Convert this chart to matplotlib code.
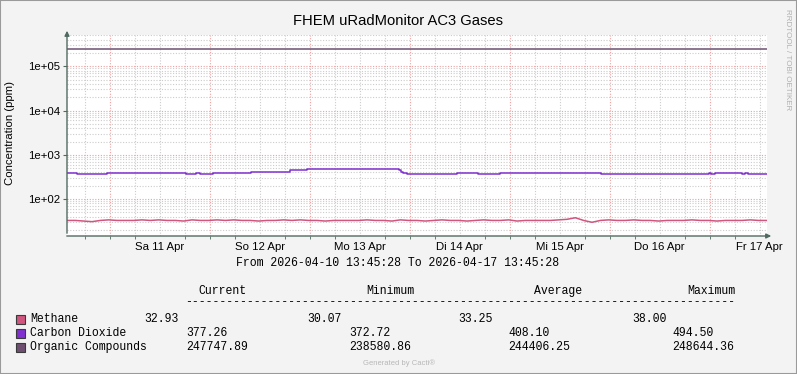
import matplotlib
matplotlib.use("Agg")
import matplotlib.pyplot as plt
import matplotlib.dates as mdates
from matplotlib.patches import Rectangle
from matplotlib.ticker import LogLocator, NullFormatter, FixedLocator, FixedFormatter
import numpy as np
import pandas as pd

# time window of the graph
start = pd.Timestamp("2026-04-10 13:45:28")
end = pd.Timestamp("2026-04-17 13:45:28")

# methane, one reading every 2 hours (ppm)
methane = [33, 33, 32, 31, 33, 34, 33, 33, 33, 34, 33, 34, 33, 33, 32, 34, 33, 33, 34, 33,
           34, 33, 33, 32, 33, 33, 34, 33, 34, 33, 33, 32, 33, 33, 33, 33, 34, 33, 33, 32,
           34, 33, 33, 32, 33, 34, 33, 33, 32, 33, 34, 33, 33, 34, 32, 33, 33, 33, 33, 34,
           35, 38, 33, 30, 33, 34, 33, 33, 34, 33, 33, 32, 33, 33, 33, 34, 33, 33, 32, 33,
           33, 33, 34, 33, 33]

# carbon dioxide steps: hours since start, value from there on
co2_hours = [0, 2.4, 9.6, 21.4, 21.8, 28.6, 31, 32, 35, 44.2, 49.7, 53.5, 57.6, 61.7, 62.4,
             79.7, 80.2, 80.6, 81.6, 93.6, 98.6, 103.9, 107, 120.7, 128.2, 154, 154.6, 155.5,
             162, 162.7, 163.4, 168]
co2_vals = [390, 375, 385, 395, 385, 375, 385, 375, 385, 400, 420, 445, 480, 470, 480,
            450, 410, 385, 372, 385, 375, 385, 395, 385, 375, 382, 375, 382,
            375, 382, 378, 377]

# organic compounds steps
org_hours = [0, 74.6, 76.3, 78.7, 81, 82.5, 89.5, 90.2, 103.9, 104.5, 109.2, 111, 120.2, 123, 168]
org_vals = [240000, 247000, 240000, 247500, 242000, 247800, 243000, 248000, 242000, 247500,
            241000, 247000, 240500, 247500, 247748]

day_labels = ["Sa 11 Apr", "So 12 Apr", "Mo 13 Apr", "Di 14 Apr", "Mi 15 Apr", "Do 16 Apr", "Fr 17 Apr"]

names = ["Methane", "Carbon Dioxide", "Organic Compounds"]
colors = ["#D0557F", "#8030D0", "#6E4F72"]
current = ["32.93", "377.26", "247747.89"]
minimum = ["30.07", "372.72", "238580.86"]
average = ["33.25", "408.10", "244406.25"]
maximum = ["38.00", "494.50", "248644.36"]

W, H = 797, 374
fig = plt.figure(figsize=(W / 100, H / 100), dpi=100, facecolor="#F3F3F3")
fig.patches.append(Rectangle((0, 0), 1, 1, transform=fig.transFigure, fill=False,
                             edgecolor="#9a9a9a", linewidth=1.5))

ax = fig.add_axes([67 / W, 1 - 236 / H, 700 / W, 201 / H])
ax.set_facecolor("white")

to_time = lambda hrs: start + pd.to_timedelta(np.asarray(hrs, dtype=float), unit="h")
m_hours = np.linspace(0, 168, len(methane))

ax.plot(to_time(m_hours), methane, color=colors[0], lw=1.1)
ax.plot(to_time(co2_hours), co2_vals, color=colors[1], lw=1.1, drawstyle="steps-post")
ax.plot(to_time(org_hours), org_vals, color=colors[2], lw=1.1, drawstyle="steps-post")

ax.set_yscale("log")
ax.set_ylim(14.7, 5.1e5)
ax.set_xlim(start, end)

# grid: gray every 6 hours, red at midnight
six_h = pd.date_range("2026-04-10 18:00", "2026-04-17 12:00", freq="6h")
for t in six_h:
    is_mid = t.hour == 0
    ax.axvline(t, color="#F0A0A0" if is_mid else "#CCCCCC", lw=0.8, ls=(0, (1, 1.5)), zorder=0)
ax.yaxis.set_major_locator(LogLocator(base=10, numticks=10))
ax.yaxis.set_minor_locator(LogLocator(base=10, subs=np.arange(2, 10), numticks=20))
ax.yaxis.set_minor_formatter(NullFormatter())
ax.grid(True, axis="y", which="major", color="#F0A0A0", lw=0.8, ls=(0, (1, 1.5)))
ax.grid(True, axis="y", which="minor", color="#CCCCCC", lw=0.8, ls=(0, (1, 1.5)))
ax.set_axisbelow(True)

noons = pd.date_range("2026-04-11 12:00", "2026-04-17 12:00", freq="D")
ax.xaxis.set_major_locator(FixedLocator(mdates.date2num(noons)))
ax.xaxis.set_major_formatter(FixedFormatter(day_labels))
ax.xaxis.set_minor_locator(FixedLocator(mdates.date2num(six_h)))
ax.tick_params(axis="x", which="major", length=0, pad=4, labelsize=8.2)
ax.tick_params(axis="x", which="minor", length=2, color="#506a5f", direction="out")
ax.tick_params(axis="y", which="major", length=3, color="#506a5f", labelsize=8.2, pad=2)
ax.tick_params(axis="y", which="minor", length=0)
ax.yaxis.set_major_formatter(plt.FuncFormatter(lambda v, p: "%.0e" % v))
for lab in ax.get_xticklabels() + ax.get_yticklabels():
    lab.set_fontfamily("Liberation Sans")

for s in ax.spines.values():
    s.set_visible(False)
axis_col = "#506a5f"
ax.annotate("", xy=(0, 1 + 7 / 201), xytext=(0, 0), xycoords="axes fraction",
            arrowprops=dict(arrowstyle="-|>", color=axis_col, lw=1, mutation_scale=7), annotation_clip=False)
ax.annotate("", xy=(1 + 7 / 700, 0), xytext=(-3 / 700, 0), xycoords="axes fraction",
            arrowprops=dict(arrowstyle="-|>", color=axis_col, lw=1, mutation_scale=7), annotation_clip=False)

fig.text(10 / W, 1 - 133 / H, "Concentration (ppm)", rotation=90, ha="center", va="center",
         fontsize=8.2, family="Liberation Sans")

fig.text(398 / W, 1 - 21 / H, "FHEM uRadMonitor AC3 Gases", ha="center", va="center",
         fontsize=10.6, family="Liberation Sans")
fig.text(787 / W, 1 - 60 / H, "RRDTOOL / TOBI OETIKER", rotation=270, ha="center", va="center",
         fontsize=5.8, color="#B0B0B0", family="Liberation Sans")

mono = dict(family="Liberation Mono", fontsize=8.3, va="center")
fig.text(398 / W, 1 - 263 / H, "From %s To %s" % (start.strftime("%Y-%m-%d %H:%M:%S"),
                                                   end.strftime("%Y-%m-%d %H:%M:%S")), ha="center", **mono)

# legend table
fig.text(198 / W, 1 - 291 / H, "Current", ha="left", **mono)
fig.text(366 / W, 1 - 291 / H, "Minimum", ha="left", **mono)
fig.text(534 / W, 1 - 291 / H, "Average", ha="left", **mono)
fig.text(687 / W, 1 - 291 / H, "Maximum", ha="left", **mono)
fig.text(185 / W, 1 - 302 / H, "-" * 80, ha="left", **mono)

row_y = [319, 333, 347]
col_x = [[144, 307, 458, 632], [186, 349, 508, 672], [186, 349, 508, 672]]
for i, name in enumerate(names):
    y = 1 - row_y[i] / H
    fig.patches.append(Rectangle((16 / W, y - 4.5 / H), 9 / W, 9 / H, transform=fig.transFigure,
                                 facecolor=colors[i], edgecolor="#3a3a3a", lw=0.8))
    fig.text(30 / W, y, name, ha="left", **mono)
    for x, v in zip(col_x[i], [current[i], minimum[i], average[i], maximum[i]]):
        fig.text(x / W, y, v, ha="left", **mono)

fig.text(399 / W, 1 - 363 / H, "Generated by Cacti\u00ae", ha="center", va="center",
         fontsize=5.5, color="#B8B8B8", family="Liberation Sans")

fig.savefig("out.png", dpi=100, facecolor=fig.get_facecolor())
